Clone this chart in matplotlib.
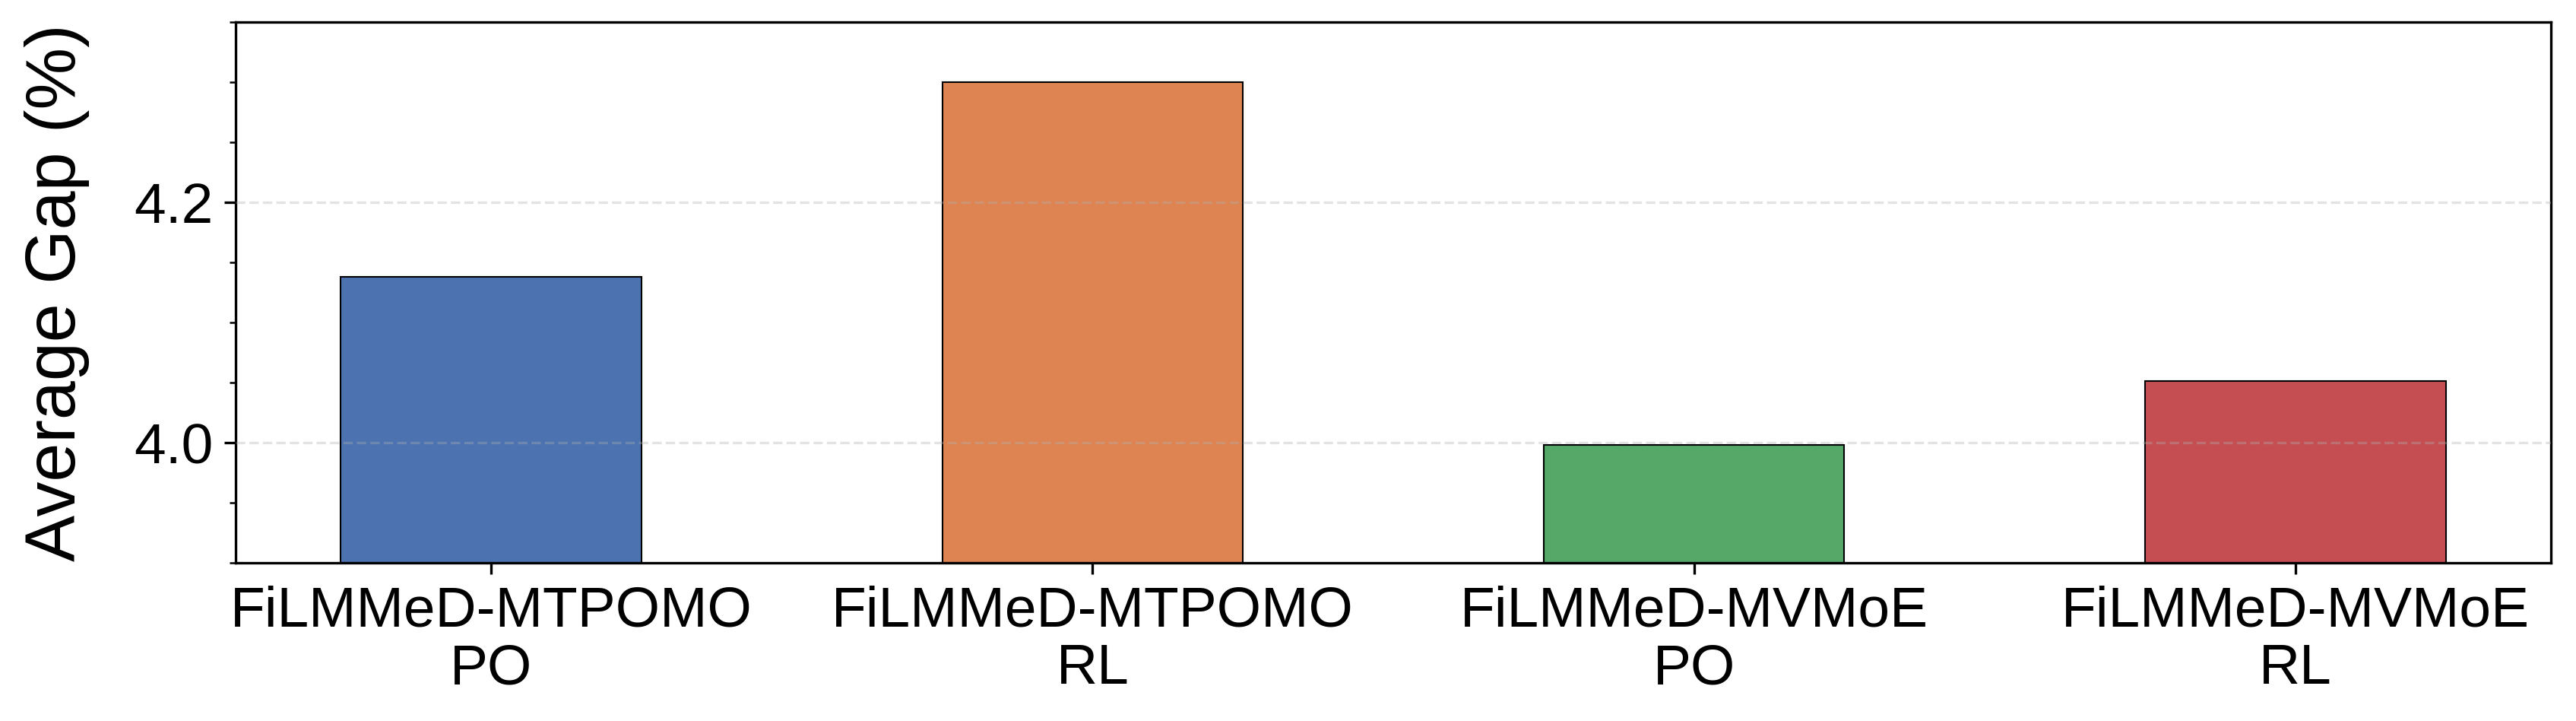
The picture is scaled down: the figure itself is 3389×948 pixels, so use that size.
import matplotlib
matplotlib.use("Agg")
import matplotlib.pyplot as plt
from matplotlib.ticker import MultipleLocator

categories = ["FiLMMeD-MTPOMO\nPO", "FiLMMeD-MTPOMO\nRL", "FiLMMeD-MVMoE\nPO", "FiLMMeD-MVMoE\nRL"]
values = [4.138, 4.300, 3.998, 4.051]
colors = ["#4C72B0", "#DD8452", "#55A868", "#C44E52"]
ylabel = "Average Gap (%)"

plt.rcParams["font.family"] = ["Liberation Sans", "DejaVu Sans"]

W, H, DPI = 3389, 948, 300
fig = plt.figure(figsize=(W / DPI, H / DPI), dpi=DPI)
ax = fig.add_axes([310 / W, 1 - 740 / H, (3356 - 310) / W, (740 - 29) / H])

x = list(range(len(categories)))
ax.bar(x, values, width=0.5, color=colors, edgecolor="black", linewidth=0.5)

ax.set_ylim(3.9, 4.35)
ax.yaxis.set_major_locator(MultipleLocator(0.2))
ax.yaxis.set_minor_locator(MultipleLocator(0.05))
ax.set_xticks(x)
ax.set_xticklabels(categories, fontsize=18, linespacing=1.13)
ax.tick_params(axis="y", labelsize=18)
ax.set_ylabel(ylabel, fontsize=22, labelpad=14)
ax.grid(axis="y", which="major", linestyle="--", linewidth=0.8, color="#b0b0b0", alpha=0.35)
ax.set_axisbelow(False)

fig.savefig("out.png", dpi=DPI)
